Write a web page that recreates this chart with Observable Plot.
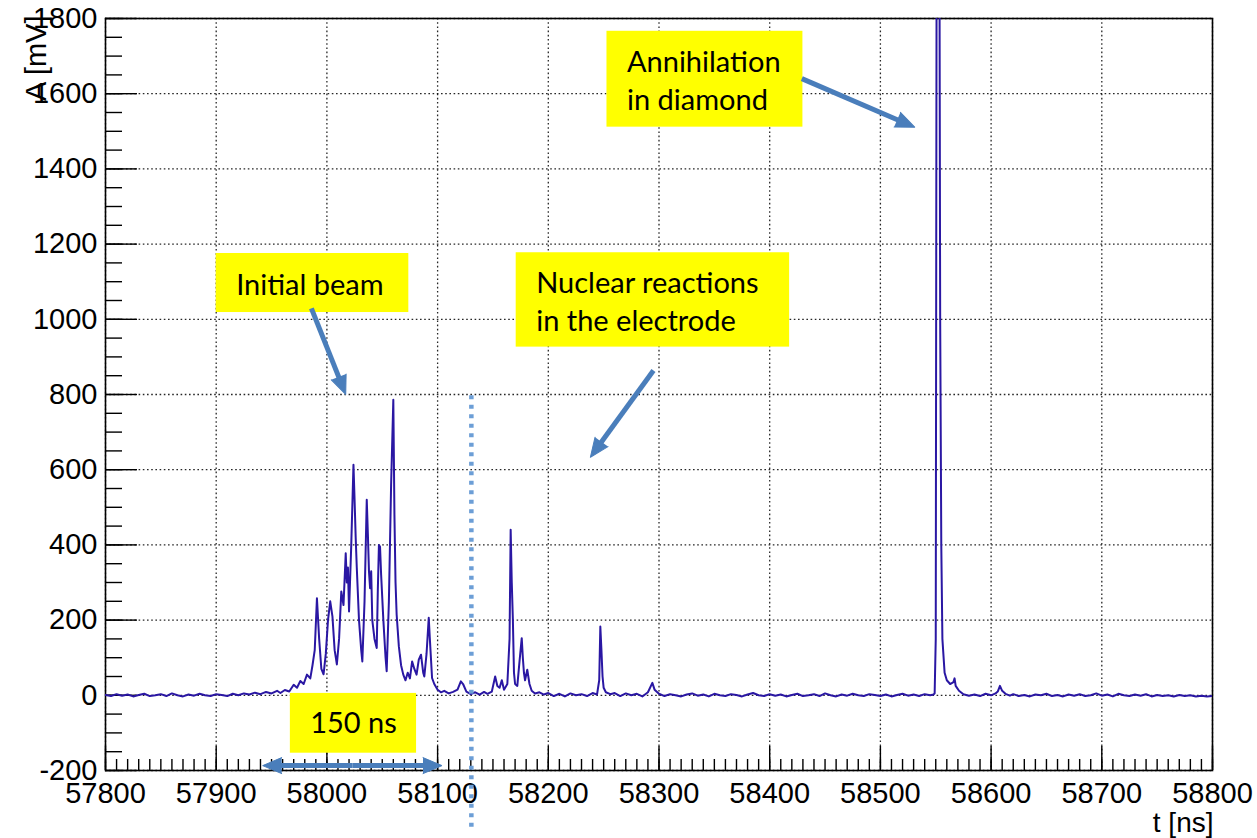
<!DOCTYPE html>
<html><head><meta charset="utf-8">
<script src="https://cdn.jsdelivr.net/npm/d3@7"></script>
<script src="https://cdn.jsdelivr.net/npm/@observablehq/plot@0.6"></script>
<style>body{margin:0;background:#fff} svg{display:block}</style>
</head><body><div id="chart"></div>
<script>
// waveform: time (ns) and amplitude (mV)
const times = [
57800,57805,57810,57815,57820,57825,57830,57835,57840,57845,57850,57855,57860,57865,57870,57875,57880,57885,57890,57895,
57900,57905,57910,57915,57920,57925,57930,57935,57940,57945,57950,
57955,57958,57962,57966,57970,57973,57976,57979,57982,57985,57987,57989,57991,57993,57995,57997,57999,
58001,58003,58005,58007,58009,58011,58013,58015,58017,58018,58019,58020,58022,58024,58025,58026,58027,58029,58031,58032,58034,
58036,58037,58038,58039,58040,58041,58043,58045,58046,58047,58048,58049,58051,58053,58054,58056,58058,58060,58061,58062,58063,
58065,58067,58069,58071,58073,58075,58077,58079,58081,58083,58085,58087,58088,58090,58092,58093,58095,58097,58100,
58103,58106,58110,58114,58118,58121,58123,58126,58130,58134,58138,58142,58145,58149,58152,58154,58156,58158,58160,58163,
58165,58166,58167,58168,58169,58170,58172,58174,58176,58177,58178,58179,58181,58183,58185,58188,58192,58196,58200,
58205,58210,58215,58220,58225,58230,58235,58240,58244,58246,58247,58248,58249,58250,58252,58256,58260,58265,58270,58275,
58280,58285,58290,58294,58296,58300,
58305,58310,58315,58320,58325,58330,58335,58340,58345,58350,58355,58360,58365,58370,58375,58380,58385,58390,58395,58400,
58405,58410,58415,58420,58425,58430,58435,58440,58445,58450,58455,58460,58465,58470,58475,58480,58485,58490,58495,58500,
58505,58510,58515,58520,58525,58530,58535,58540,58545,58548,58549,
58550,58551,58553,58554,58555,58556,58558,58560,58563,58566,58567,58568,58571,
58575,58580,58585,58590,58595,58600,58604,58606,58608,58610,58613,58617,58620,58625,58630,58635,58640,58645,58650,58655,
58660,58665,58670,58675,58680,58685,58690,58695,58700,58705,58710,58715,58720,58725,58730,58735,58740,58745,58750,58755,
58760,58765,58770,58775,58780,58785,58790,58795,58800
];
const amps = [
1,-2,3,-1,2,-3,1,4,-2,0,3,-2,5,0,-3,2,-1,4,0,-2,
3,1,-2,4,0,5,2,7,3,9,5,
12,6,14,10,28,20,38,30,55,45,80,120,258,150,70,56,110,
200,250,210,120,82,150,276,240,378,300,340,223,400,613,520,420,339,200,120,90,250,
520,430,330,285,330,200,150,126,280,400,395,320,200,100,64,250,560,786,480,300,215,
130,80,55,40,60,45,90,70,55,95,108,60,50,110,206,150,46,30,15,
8,12,5,9,15,37,30,10,3,8,2,9,4,10,50,25,20,40,15,30,
150,440,300,200,60,30,25,90,152,100,60,40,68,30,12,5,8,2,6,
-2,4,-3,5,0,3,-2,6,2,40,183,120,50,20,8,3,6,-2,5,0,
4,-3,8,33,15,4,
-2,3,0,-3,2,5,-1,2,-3,4,0,-2,3,1,-3,2,6,0,-2,3,
-1,2,-3,1,4,-2,0,3,-2,5,0,-3,2,-1,4,0,-2,3,1,-2,
2,-3,1,4,-1,2,-2,3,0,2,5,
150,2500,2500,1000,400,150,60,40,30,35,45,25,12,
3,-1,2,-2,4,0,5,10,25,12,4,-1,3,-2,1,-3,2,0,4,-2,
1,-3,2,-1,3,-2,0,5,-1,2,-3,4,0,-2,2,-1,3,-3,1,-2,
0,-3,1,-2,0,-3,-1,-3,-2
];

// axes
const xTicks = [57800,57900,58000,58100,58200,58300,58400,58500,58600,58700,58800];
const yTicks = [-200,0,200,400,600,800,1000,1200,1400,1600,1800];
const xMinor = d3.range(57800, 58801, 10);
const yMinor = d3.range(-200, 1801, 50);
const xTitle = "t [ns]";
const yTitle = "A [mV]";

// annotations (data coordinates)
const noteLabels = ["Annihilation\nin diamond", "Initial beam", "Nuclear reactions\nin the electrode", "150 ns"];
const noteT1 = [58253, 57900, 58171, 57967];
const noteT2 = [58430, 58074, 58418, 58081];
const noteA1 = [1511, 1018, 926, -154];
const noteA2 = [1766, 1175, 1177, 5];
const noteAlign = ["start", "start", "start", "middle"];

const arrowT1 = [58429, 57986, 58295, 58023, 58023];
const arrowA1 = [1640, 1029, 864, -187, -187];
const arrowT2 = [58531, 58017, 58238, 57942, 58104];
const arrowA2 = [1511, 800, 633, -187, -187];

const markerT = [58130.5];
const markerA = [797, -360];

const wave = times.map((t, i) => ({t, a: amps[i]}));
const notes = noteLabels.map((label, i) => ({label, t1: noteT1[i], t2: noteT2[i], a1: noteA1[i], a2: noteA2[i], align: noteAlign[i]}));

const base = {
  width: 1257, height: 838,
  marginLeft: 105, marginRight: 45, marginTop: 18, marginBottom: 68,
  x: {domain: [57800, 58800]},
  y: {domain: [-200, 1800]}
};
// probe the scales to orient the arrow heads in screen space
const probe = Plot.plot({...base, marks: [Plot.frame()]});
const sx = probe.scale("x"), sy = probe.scale("y");
const arrows = arrowT1.map((t, i) => {
  const dx = sx.apply(arrowT2[i]) - sx.apply(t);
  const dy = sy.apply(arrowA2[i]) - sy.apply(arrowA1[i]);
  return {t1: t, a1: arrowA1[i], t2: arrowT2[i], a2: arrowA2[i], angle: Math.atan2(dx, -dy) * 180 / Math.PI};
});

const fmt = d => String(d);
const arrowBlue = "#4a7ebb";
const chart = Plot.plot({
  ...base,
  style: {fontFamily: "'Liberation Sans', Arial, sans-serif", fontSize: "29px", color: "black", background: "white", overflow: "visible"},
  marks: [
    Plot.gridX(xTicks, {stroke: "#000", strokeOpacity: 0.85, strokeWidth: 1.3, strokeDasharray: "1.6,2.6"}),
    Plot.gridY(yTicks, {stroke: "#000", strokeOpacity: 0.85, strokeWidth: 1.3, strokeDasharray: "1.6,2.6"}),
    Plot.axisX(xMinor, {tickSize: -11, fill: "none", strokeWidth: 1.4}),
    Plot.axisX(xTicks, {tickSize: -24, fill: "none", strokeWidth: 1.4}),
    Plot.axisY(yMinor, {tickSize: -17, fill: "none", strokeWidth: 1.4}),
    Plot.axisY(yTicks, {tickSize: -32, fill: "none", strokeWidth: 1.4}),
    Plot.axisX(xTicks, {tickSize: 0, tickPadding: 12, tickFormat: fmt, label: null, stroke: "none"}),
    Plot.axisY(yTicks, {tickSize: 0, tickPadding: 8, tickFormat: fmt, label: null, stroke: "none"}),
    Plot.frame({stroke: "black", strokeWidth: 1.6}),
    Plot.line(wave, {x: "t", y: "a", stroke: "#2a17a3", strokeWidth: 2, clip: true}),
    Plot.ruleX(markerT, {y1: markerA[0], y2: markerA[1], stroke: "#6c9ed6", strokeWidth: 4.5, strokeDasharray: "4,5.5", ariaLabel: "marker"}),
    Plot.rect(notes, {x1: "t1", x2: "t2", y1: "a1", y2: "a2", fill: "#ffff00"}),
    Plot.text(notes.filter(d => d.align === "start"), {x: "t1", y: d => (d.a1 + d.a2) / 2, text: "label", textAnchor: "start", dx: 20, fontFamily: "Lato", fontSize: 29, lineHeight: 1.31, fill: "black"}),
    Plot.text(notes.filter(d => d.align === "middle"), {x: d => (d.t1 + d.t2) / 2, y: d => (d.a1 + d.a2) / 2, text: "label", textAnchor: "middle", fontFamily: "Lato", fontSize: 29, fill: "black"}),
    Plot.arrow(arrows, {x1: "t1", y1: "a1", x2: "t2", y2: "a2", stroke: arrowBlue, strokeWidth: 5, headLength: 0, insetEnd: 12, strokeLinecap: "butt", ariaLabel: "pointer"}),
    Plot.vector(arrows, {x: "t2", y: "a2", rotate: "angle", length: 19, r: 8, anchor: "end", shape: "spike", fill: arrowBlue, stroke: arrowBlue, strokeWidth: 1, ariaLabel: "pointer-head"}),
    Plot.text([yTitle], {frameAnchor: "top-left", dx: -80, dy: -3, rotate: -90, textAnchor: "end", fontSize: 29}),
    Plot.text([xTitle], {frameAnchor: "bottom-right", dx: 1, dy: 61, textAnchor: "end", lineAnchor: "bottom", fontSize: 28})
  ]
});
// soft drop shadows like the slide annotations
const svg = d3.select(chart);
const defs = svg.insert("defs", ":first-child");
defs.append("filter").attr("id", "shadow").attr("x", "-20%").attr("y", "-20%").attr("width", "140%").attr("height", "140%")
  .append("feDropShadow").attr("dx", 2).attr("dy", 2).attr("stdDeviation", 1.8).attr("flood-color", "#000").attr("flood-opacity", 0.35);
svg.selectAll('g[aria-label="pointer"], g[aria-label="pointer-head"], g[aria-label="marker"]').attr("filter", "url(#shadow)");
document.getElementById("chart").appendChild(chart);
</script>
</body></html>
